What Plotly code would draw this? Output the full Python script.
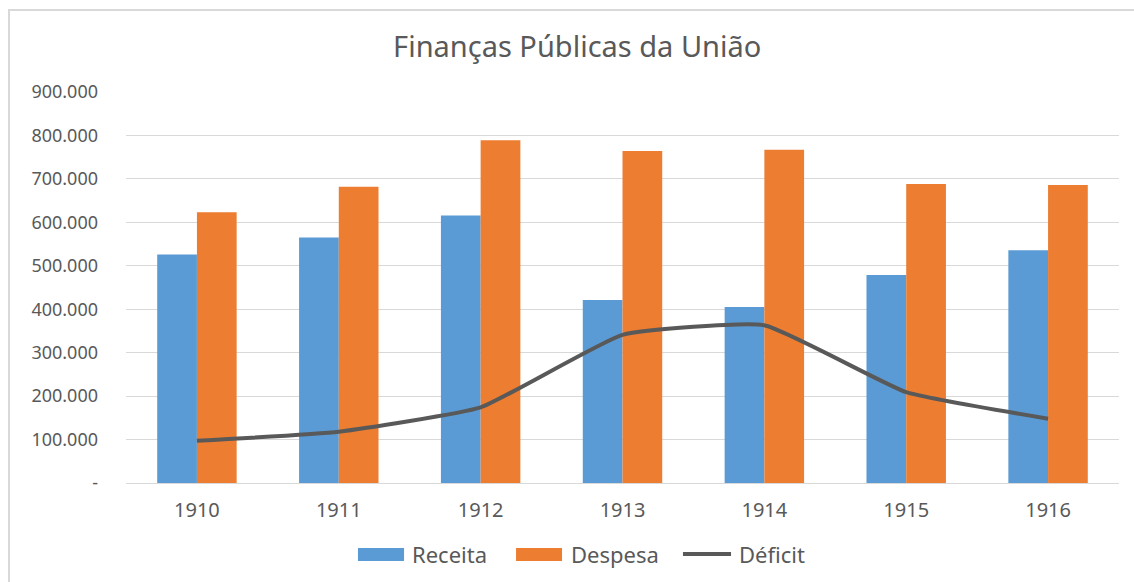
import plotly.graph_objects as go

# Dados
anos = ["1910", "1911", "1912", "1913", "1914", "1915", "1916"]
receita = [526000, 565000, 616000, 421000, 405000, 479000, 536000]
despesa = [623000, 682000, 789000, 764000, 767000, 688000, 686000]
deficit = [97000, 118000, 174000, 341000, 363000, 209000, 148000]

y_ticks = [0, 100000, 200000, 300000, 400000, 500000, 600000, 700000, 800000, 900000]
y_labels = ["-", "100.000", "200.000", "300.000", "400.000", "500.000",
            "600.000", "700.000", "800.000", "900.000"]

cinza = "#595959"
azul = "#5B9BD5"
laranja = "#ED7D31"
fonte = "Noto Sans"

fig = go.Figure()

fig.add_trace(go.Bar(
    x=anos, y=receita, name="Receita",
    marker=dict(color=azul, line=dict(width=0)),
))
fig.add_trace(go.Bar(
    x=anos, y=despesa, name="Despesa",
    marker=dict(color=laranja, line=dict(width=0)),
))
fig.add_trace(go.Scatter(
    x=anos, y=deficit, name="Déficit",
    mode="lines",
    line=dict(color=cinza, width=4, shape="spline", smoothing=0.4),
))

# moldura do gráfico (cortada à direita e em baixo)
fig.add_shape(
    type="rect", xref="paper", yref="paper",
    x0=-0.1178, x1=1.05, y0=-0.5, y1=1.2097,
    line=dict(color="#d9d9d9", width=2),
    layer="below",
)

# legenda desenhada à mão, no estilo do Excel (chaves largas)
leg_y = -0.1816
fig.add_shape(type="rect", xref="paper", yref="paper",
              x0=0.2336, x1=0.2800, y0=-0.1995, y1=-0.1662,
              fillcolor=azul, line=dict(width=0))
fig.add_shape(type="rect", xref="paper", yref="paper",
              x0=0.3928, x1=0.4391, y0=-0.1995, y1=-0.1662,
              fillcolor=laranja, line=dict(width=0))
fig.add_shape(type="line", xref="paper", yref="paper",
              x0=0.5609, x1=0.6093, y0=leg_y, y1=leg_y,
              line=dict(color=cinza, width=4))
for nome, xpos in [("Receita", 0.2860), ("Despesa", 0.4461), ("Déficit", 0.6153)]:
    fig.add_annotation(
        text=nome, xref="paper", yref="paper",
        x=xpos, y=leg_y, xanchor="left", yanchor="middle",
        showarrow=False, font=dict(size=22, color=cinza, family=fonte),
    )

fig.update_layout(
    width=1134, height=582,
    margin=dict(l=126, r=15, t=92, b=99, autoexpand=False),
    paper_bgcolor="white",
    plot_bgcolor="white",
    font=dict(family=fonte, color=cinza, size=18),
    title=dict(
        text="Finanças Públicas da União",
        x=0.509, xanchor="center",
        y=0.919, yanchor="middle",
        font=dict(size=29, color=cinza, family=fonte),
    ),
    barmode="group",
    bargap=0.44,
    bargroupgap=0,
    showlegend=False,
    xaxis=dict(
        showgrid=False,
        showline=True, linecolor="#d9d9d9", linewidth=1,
        ticks="", tickfont=dict(size=20, color=cinza),
        ticklabelstandoff=9,
    ),
    yaxis=dict(
        range=[0, 900000],
        tickvals=y_ticks, ticktext=y_labels,
        showgrid=True, gridcolor="#d9d9d9", gridwidth=1,
        zeroline=False, showline=False,
        ticks="", ticklen=0,
        tickfont=dict(size=18, color=cinza),
        ticklabelstandoff=27,
    ),
)

fig.write_html(
    "out.html",
    config={"displayModeBar": False},
    post_script="document.body.style.margin='0';",
)
